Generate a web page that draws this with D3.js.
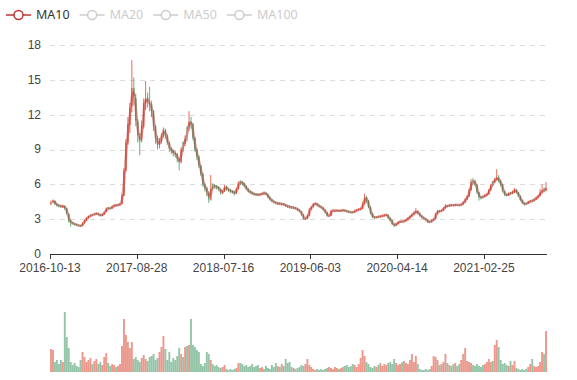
<!DOCTYPE html>
<html><head><meta charset="utf-8">
<script src="https://cdn.jsdelivr.net/npm/d3@7/dist/d3.min.js"></script>
<style>body{margin:0;background:#fff}svg{display:block;font-family:"Noto Sans",sans-serif}</style>
</head><body><svg id="c" width="577" height="380"></svg>
<script>
const tickLabels=["2016-10-13","2017-08-28","2018-07-16","2019-06-03","2020-04-14","2021-02-25"];
const tickIndex=[0,44,88,132,176,220];
const legendNames=["MA10","MA20","MA50","MA100"];
const legendOn=[true,false,false,false];
const yTicks=[0,3,6,9,12,15,18];
const opens=[4.30,4.45,4.58,4.32,4.18,4.14,4.08,4.12,3.92,3.45,
2.88,2.70,2.60,2.56,2.47,2.44,2.42,2.66,2.88,3.10,
3.24,3.40,3.40,3.44,3.50,3.40,3.30,3.42,3.62,3.98,
3.96,3.92,4.10,4.22,4.18,4.24,4.30,5.00,7.20,9.60,
11.10,12.70,14.30,13.40,11.40,10.10,9.80,11.00,13.00,13.50,
13.00,12.90,12.30,11.00,10.00,9.40,9.70,10.20,10.70,10.20,
9.60,9.10,8.90,8.70,8.60,8.20,7.90,9.60,9.50,10.90,
11.00,11.40,11.20,10.00,9.00,8.40,7.60,6.90,6.00,5.70,
5.30,4.70,6.00,5.90,5.80,5.75,5.60,5.30,5.40,5.80,
5.60,5.50,5.40,5.35,5.20,5.60,6.25,6.20,6.10,5.85,
5.60,5.40,5.30,5.20,5.15,5.14,5.10,5.15,5.28,5.25,
5.15,4.90,4.70,4.55,4.45,4.32,4.35,4.30,4.30,4.25,
4.15,4.10,4.05,3.95,3.98,3.92,3.80,3.68,3.40,3.05,
3.05,3.30,3.85,4.05,4.30,4.35,4.20,4.10,4.00,3.82,
3.60,3.30,3.30,3.70,3.70,3.72,3.78,3.70,3.74,3.78,
3.72,3.66,3.62,3.62,3.60,3.72,3.80,3.85,3.90,4.30,
4.90,4.60,4.05,3.50,3.20,3.15,3.24,3.22,3.25,3.30,
3.35,3.38,3.10,2.90,2.60,2.45,2.60,2.75,2.80,2.78,
2.85,2.95,3.10,3.25,3.40,3.55,3.70,3.50,3.30,3.15,
3.05,2.95,2.80,2.78,2.90,3.00,3.45,3.70,3.68,3.75,
3.95,4.15,4.12,4.25,4.22,4.18,4.25,4.22,4.20,4.28,
4.45,4.70,4.95,5.50,6.35,6.30,6.00,5.30,4.90,5.00,
4.95,5.05,5.15,5.50,6.25,6.20,6.40,6.60,6.30,6.00,
5.40,5.15,5.05,5.28,5.25,5.30,5.55,5.30,5.00,4.65,
4.40,4.38,4.35,4.50,4.62,4.60,4.70,4.85,5.00,5.30,
5.55,5.50];
const closes=[4.45,4.60,4.30,4.20,4.15,4.10,4.12,3.95,3.50,2.85,
2.70,2.62,2.55,2.48,2.45,2.42,2.65,2.90,3.10,3.25,
3.32,3.38,3.45,3.50,3.40,3.30,3.42,3.60,3.90,3.95,
3.92,4.10,4.20,4.18,4.25,4.30,5.00,7.20,9.60,11.20,
12.60,14.30,13.60,11.50,10.20,9.70,11.10,13.00,13.40,13.10,
12.90,12.30,11.00,10.00,9.40,9.70,10.20,10.70,10.20,9.60,
9.10,8.90,8.70,8.60,8.20,7.90,9.00,9.50,9.90,10.80,
11.40,11.20,10.00,9.00,8.40,7.60,6.90,6.00,5.70,5.30,
4.70,5.60,5.90,5.80,5.75,5.60,5.30,5.40,5.80,5.60,
5.50,5.40,5.35,5.20,5.60,6.10,6.20,6.10,5.85,5.60,
5.40,5.30,5.20,5.15,5.10,5.10,5.15,5.20,5.25,5.15,
4.90,4.70,4.55,4.45,4.38,4.35,4.32,4.30,4.25,4.15,
4.10,4.05,4.00,3.98,3.92,3.80,3.68,3.40,3.05,3.05,
3.30,3.85,4.05,4.30,4.35,4.20,4.10,4.00,3.82,3.60,
3.30,3.30,3.70,3.75,3.72,3.75,3.70,3.74,3.78,3.72,
3.66,3.62,3.58,3.60,3.72,3.80,3.85,3.90,4.30,4.90,
4.60,4.05,3.50,3.20,3.15,3.18,3.22,3.25,3.30,3.35,
3.38,3.10,2.90,2.60,2.45,2.60,2.75,2.80,2.78,2.85,
2.95,3.10,3.25,3.40,3.55,3.70,3.50,3.30,3.15,3.05,
2.95,2.75,2.78,2.90,3.00,3.45,3.70,3.68,3.75,3.95,
4.15,4.12,4.20,4.22,4.18,4.25,4.22,4.20,4.28,4.45,
4.70,4.95,5.50,6.20,6.30,6.00,5.30,4.90,4.85,4.95,
5.05,5.15,5.50,5.90,6.20,6.40,6.60,6.30,6.00,5.40,
5.15,5.05,5.20,5.25,5.30,5.55,5.30,5.00,4.65,4.40,
4.30,4.35,4.50,4.55,4.60,4.70,4.85,5.00,5.30,5.45,
5.50,5.70];
const lows=[4.20,4.38,4.22,4.10,4.05,3.98,3.95,3.80,3.40,2.70,
2.35,2.55,2.48,2.42,2.38,2.34,2.40,2.62,2.84,3.05,
3.18,3.26,3.34,3.38,3.32,3.24,3.26,3.38,3.58,3.82,
3.84,3.88,4.02,4.08,4.12,4.16,4.28,4.98,7.10,9.40,
10.40,12.20,12.80,11.00,9.60,8.50,9.60,10.80,12.40,12.60,
12.30,11.80,10.60,9.50,9.00,9.10,9.50,10.00,9.90,9.40,
8.80,8.60,8.40,8.30,7.90,7.20,7.80,8.80,9.30,9.70,
10.60,10.80,9.80,8.80,8.10,7.40,6.70,5.80,5.40,5.00,
4.40,4.60,5.50,5.60,5.55,5.45,5.10,5.15,5.35,5.45,
5.35,5.25,5.20,5.05,5.15,5.55,5.95,5.90,5.75,5.50,
5.30,5.20,5.10,5.05,5.00,5.00,5.02,5.08,5.10,5.05,
4.80,4.60,4.45,4.35,4.28,4.25,4.22,4.20,4.15,4.05,
3.95,3.92,3.90,3.88,3.82,3.70,3.60,3.30,2.95,2.95,
3.00,3.25,3.80,4.00,4.20,4.10,4.00,3.90,3.75,3.50,
3.20,3.20,3.28,3.65,3.64,3.66,3.62,3.64,3.68,3.64,
3.58,3.54,3.50,3.52,3.56,3.66,3.72,3.78,3.85,4.25,
4.40,3.95,3.40,3.10,3.05,3.08,3.10,3.14,3.18,3.22,
3.26,3.00,2.82,2.50,2.30,2.40,2.55,2.68,2.70,2.72,
2.80,2.90,3.02,3.18,3.35,3.48,3.40,3.22,3.08,2.98,
2.88,2.68,2.68,2.72,2.84,2.96,3.40,3.58,3.62,3.70,
3.90,4.02,4.06,4.12,4.10,4.12,4.14,4.12,4.15,4.22,
4.40,4.65,4.90,5.45,6.00,5.85,5.20,4.60,4.70,4.78,
4.88,4.98,5.10,5.45,5.85,6.10,6.30,6.15,5.85,5.30,
5.00,4.95,5.00,5.10,5.15,5.25,5.20,4.90,4.55,4.30,
4.15,4.22,4.30,4.42,4.45,4.52,4.65,4.80,4.95,5.20,
5.30,5.40];
const highs=[4.62,4.70,4.62,4.38,4.28,4.22,4.25,4.18,3.98,3.50,
2.92,2.78,2.66,2.60,2.54,2.50,2.72,2.96,3.16,3.30,
3.40,3.44,3.55,3.58,3.54,3.44,3.48,3.66,4.00,4.05,
4.02,4.16,4.28,4.30,4.32,4.40,5.20,7.40,9.90,11.80,
13.00,16.70,15.20,13.80,11.60,10.40,11.50,13.40,14.90,13.90,
14.40,13.20,12.40,11.10,10.20,10.00,10.40,10.90,10.80,10.30,
9.70,9.20,9.00,8.90,8.70,8.30,9.20,9.70,10.20,11.00,
12.30,11.80,11.30,10.10,9.10,8.50,7.70,7.00,6.10,5.80,
5.40,6.80,6.10,6.00,5.95,5.85,5.65,5.50,5.95,5.90,
5.70,5.60,5.50,5.45,5.70,6.25,6.35,6.30,6.15,5.90,
5.70,5.50,5.40,5.30,5.25,5.22,5.25,5.30,5.40,5.35,
5.20,4.95,4.75,4.60,4.52,4.48,4.45,4.42,4.38,4.30,
4.22,4.18,4.12,4.10,4.05,3.98,3.85,3.72,3.45,3.15,
3.40,3.95,4.15,4.40,4.45,4.40,4.25,4.15,4.05,3.88,
3.65,3.40,3.80,3.85,3.82,3.84,3.80,3.82,3.88,3.84,
3.78,3.72,3.68,3.70,3.80,3.88,3.94,4.00,4.50,5.20,
5.00,4.65,4.10,3.55,3.28,3.26,3.30,3.34,3.40,3.44,
3.48,3.42,3.14,2.95,2.65,2.70,2.82,2.88,2.88,2.92,
3.02,3.18,3.32,3.50,3.65,3.95,3.75,3.55,3.35,3.20,
3.10,2.98,2.85,2.96,3.08,3.55,3.80,3.78,3.82,4.05,
4.30,4.22,4.28,4.30,4.28,4.32,4.30,4.28,4.36,4.55,
4.80,5.05,5.65,6.45,6.55,6.40,6.05,5.35,5.00,5.05,
5.15,5.25,5.60,6.00,6.30,6.55,7.30,6.80,6.40,6.05,
5.45,5.20,5.30,5.35,5.45,5.70,5.60,5.35,5.05,4.70,
4.45,4.42,4.58,4.62,4.70,4.80,4.95,5.10,5.60,6.00,
5.75,6.20];
const volumes=[23,22,10,12,8,12,10,60,35,24,
10,7,9,6,5,12,20,15,10,12,
14,8,11,13,8,10,7,15,19,9,
6,8,7,5,6,8,26,53,37,30,
24,30,13,15,12,10,14,17,13,11,
15,16,18,12,14,20,25,36,23,12,
20,10,14,12,16,24,18,15,25,26,
27,53,27,25,22,20,8,6,9,20,
18,12,8,6,7,5,4,5,7,3,
2,3,2,3,4,9,9,8,6,7,
5,6,8,5,6,7,4,5,3,6,
4,3,7,5,9,6,5,8,6,13,
9,10,5,4,3,4,5,7,6,8,
13,7,5,3,2,3,2,3,2,3,
4,5,4,3,5,4,3,4,5,6,
7,5,6,8,7,5,8,14,22,16,
10,8,5,4,6,5,7,9,6,8,
7,9,10,8,13,9,7,8,10,11,
9,8,12,18,10,16,8,3,2,2,
3,2,3,6,16,15,12,7,8,10,
18,9,7,6,8,9,6,8,12,18,
24,11,10,9,7,6,8,6,5,7,
8,10,13,10,11,27,32,25,12,8,
9,7,6,11,7,11,4,3,2,3,
2,3,5,8,13,6,5,6,10,20,
18,41];

(function(){
const N=closes.length;
const UP="#e0533f", DOWN="#4c9f70", MA_COLOR="#c23531";
const svg=d3.select("#c");
const pL=50,pR=547,pT=45,pB=254,vTop=312,vBottom=372;
const axisFont='"Liberation Sans",Arial,sans-serif';

const x=d3.scaleBand().domain(d3.range(N)).range([pL,pR]).padding(0);
const bw=x.bandwidth();
const y=d3.scaleLinear().domain([0,18]).range([pB,pT]);
const yv=d3.scaleLinear().domain([0,d3.max(volumes)]).range([vBottom,vTop]);

svg.append("g").selectAll("line").data(yTicks.filter(d=>d>0)).join("line")
  .attr("x1",pL).attr("x2",pR).attr("y1",d=>Math.round(y(d))+0.5).attr("y2",d=>Math.round(y(d))+0.5)
  .attr("stroke","#dcdcdc").attr("stroke-dasharray","5,5");

svg.append("g").selectAll("text").data(yTicks).join("text")
  .attr("x",41).attr("y",d=>y(d)).attr("dy","0.32em").attr("text-anchor","end")
  .attr("font-family",axisFont).attr("font-size",12).attr("fill","#444").text(d=>d);

const xa=svg.append("g");
xa.append("line").attr("x1",pL).attr("x2",pR).attr("y1",pB+0.5).attr("y2",pB+0.5).attr("stroke","#333");
xa.selectAll("line.t").data(tickIndex).join("line").attr("class","t")
  .attr("x1",d=>Math.round(x(d))+0.5).attr("x2",d=>Math.round(x(d))+0.5)
  .attr("y1",pB).attr("y2",pB+5).attr("stroke","#333");
xa.selectAll("text").data(tickIndex).join("text")
  .attr("x",d=>x(d)).attr("y",pB+17.5).attr("text-anchor","middle")
  .attr("font-family",axisFont).attr("font-size",12).attr("fill","#444").text((d,i)=>tickLabels[i]);

const idx=d3.range(N);
const isUp=i=>closes[i]>=opens[i];

const cg=svg.append("g");
cg.selectAll("line").data(idx).join("line")
  .attr("x1",i=>x(i)+bw/2).attr("x2",i=>x(i)+bw/2)
  .attr("y1",i=>y(highs[i])).attr("y2",i=>y(lows[i]))
  .attr("stroke",i=>isUp(i)?UP:DOWN).attr("stroke-width",1).attr("stroke-opacity",0.85);
cg.selectAll("rect").data(idx).join("rect")
  .attr("x",i=>x(i)+bw*0.08).attr("width",bw*0.84)
  .attr("y",i=>y(Math.max(opens[i],closes[i])))
  .attr("height",i=>Math.max(0.8,Math.abs(y(opens[i])-y(closes[i]))))
  .attr("fill",i=>isUp(i)?UP:DOWN).attr("fill-opacity",0.75);

// MA10: each candle covers about 5 trading days, so 2 candles ~ 10 days
const ma=idx.map(i=>i<1?null:d3.mean(closes.slice(i-1,i+1)));
svg.append("path").datum(idx.filter(i=>ma[i]!==null))
  .attr("d",d3.line().x(i=>x(i)+bw/2).y(i=>y(ma[i])).curve(d3.curveMonotoneX))
  .attr("fill","none").attr("stroke",MA_COLOR).attr("stroke-opacity",0.45).attr("stroke-width",2.6);

svg.append("g").selectAll("rect").data(idx).join("rect")
  .attr("x",i=>x(i)+bw*0.02).attr("width",bw*0.96)
  .attr("y",i=>yv(volumes[i])).attr("height",i=>vBottom-yv(volumes[i]))
  .attr("fill",i=>isUp(i)?UP:DOWN).attr("fill-opacity",0.6);

const lg=svg.append("g");
let cx=6;
legendNames.forEach((name,k)=>{
  const col=legendOn[k]?MA_COLOR:"#ccc";
  const g=lg.append("g");
  g.append("line").attr("x1",cx).attr("x2",cx+25).attr("y1",15).attr("y2",15).attr("stroke",col).attr("stroke-width",1.5);
  g.append("circle").attr("cx",cx+12.5).attr("cy",15).attr("r",4.5).attr("fill","#fff").attr("stroke",col).attr("stroke-width",1.5);
  const t=g.append("text").attr("x",cx+30).attr("y",15).attr("dy","0.35em").attr("font-size",12.5)
    .attr("fill",legendOn[k]?"#333":"#ccc").text(name);
  cx+=30+t.node().getComputedTextLength()+10;
});
})();
</script></body></html>
